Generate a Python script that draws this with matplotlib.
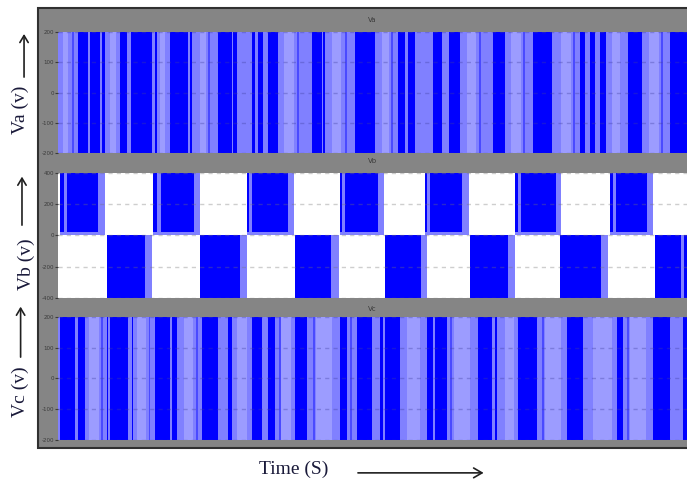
import matplotlib
matplotlib.use("Agg")
import matplotlib.pyplot as plt
from matplotlib.patches import Rectangle, FancyArrowPatch

# time axis in ms (scope window 0..100 ms)
t_end = 100.0

# Va: dark (dense switching) bands, ms
va_dark = [(3.2, 4.8), (5.1, 6.7), (7.0, 7.5), (9.9, 11.0), (11.6, 14.9),
           (15.4, 15.7), (17.8, 20.7), (21.0, 21.3), (25.4, 27.7), (27.8, 28.5),
           (30.8, 31.3), (31.8, 32.6), (33.4, 35.0), (40.4, 42.0), (42.1, 42.4),
           (47.2, 50.4), (54.1, 55.2), (55.6, 56.8), (59.6, 61.0), (62.2, 63.9),
           (69.2, 71.1), (75.5, 78.5), (83.0, 83.8), (84.6, 85.4), (86.2, 87.1),
           (90.6, 92.8), (97.3, 100.0)]
va_pale = [(0.8, 1.6), (8.3, 9.2), (16.2, 17.0), (22.5, 23.6), (36.0, 37.5),
           (43.5, 45.0), (51.5, 52.6), (65.0, 66.5), (72.0, 73.6), (80.0, 81.5),
           (88.0, 89.4), (94.0, 95.6)]
va_mid = [(2.2, 2.5), (23.9, 24.2), (38.0, 38.3), (45.6, 45.9), (52.9, 53.2),
          (66.9, 67.2), (74.0, 74.3), (81.9, 82.2), (95.9, 96.2)]

# Vb: +400 / -400 blocks, ms
vb_pos = [(0.3, 6.7), (15.1, 22.1), (30.0, 36.9), (44.8, 51.2), (58.3, 64.7),
          (72.7, 79.5), (87.8, 94.1)]
vb_neg = [(7.8, 14.6), (22.6, 29.7), (37.7, 44.0), (52.0, 58.3), (65.5, 72.2),
          (79.8, 87.0), (94.9, 100.0)]
vb_light = [(1.0, 1.5), (6.4, 7.5), (15.8, 16.3), (21.6, 22.6), (30.4, 30.9),
            (36.5, 37.5), (45.2, 45.7), (50.8, 51.8), (58.7, 59.2), (64.3, 65.3),
            (73.1, 73.6), (79.1, 80.0), (88.2, 88.7), (93.7, 94.6)]
vb_light_neg = [(13.9, 15.0), (29.0, 30.0), (43.4, 44.6), (57.7, 58.6),
                (71.6, 72.6), (86.3, 87.5), (99.0, 99.5)]

# Vc: dark bands, ms
vc_dark = [(0.3, 2.7), (3.2, 4.3), (7.8, 8.0), (8.3, 11.1), (11.8, 11.9),
           (15.4, 17.8), (18.1, 18.9), (22.9, 25.4), (27.0, 27.7), (30.8, 32.4),
           (33.4, 34.5), (37.7, 39.6), (44.8, 45.9), (47.5, 49.9), (51.2, 51.7),
           (52.0, 54.4), (58.7, 59.6), (59.9, 61.8), (66.8, 69.0), (69.5, 69.8),
           (73.1, 76.2), (80.9, 83.5), (88.9, 89.8), (94.6, 97.3), (99.4, 100.0)]
vc_pale = [(5.0, 6.5), (12.5, 14.0), (20.0, 21.5), (28.5, 30.0), (35.5, 37.0),
           (41.0, 43.5), (55.5, 57.5), (63.0, 65.5), (71.0, 72.5), (77.5, 80.0),
           (85.0, 88.0), (91.0, 93.5)]
vc_mid = [(6.9, 7.2), (14.4, 14.7), (21.9, 22.2), (35.1, 35.4), (40.5, 40.8),
          (46.4, 46.7), (62.4, 62.7), (77.0, 77.3), (90.5, 90.8)]

titles = ["Va", "Vb", "Vc"]
yticks = [[-200, -100, 0, 100, 200], [-400, -200, 0, 200, 400], [-200, -100, 0, 100, 200]]
ylabels = ["Va (v)", "Vb (v)", "Vc (v)"]

DARK = "#0000ff"
LIGHT = "#8080ff"
PALE = "#9c9cff"
MID = "#4a4aff"
GRAY = "#858585"

fig = plt.figure(figsize=(6.87, 4.87), dpi=100)
fig.patch.set_facecolor("white")

# scope window
fig.add_artist(Rectangle((0.0553, 0.0801), 1.0, 0.9035, transform=fig.transFigure,
                         facecolor=GRAY, edgecolor="#303030", lw=1.5, zorder=0))

boxes = [(0.0844, 0.6858, 0.9156, 0.2485),
         (0.0844, 0.3881, 0.9156, 0.2567),
         (0.0844, 0.0965, 0.9156, 0.2526)]
axes = [fig.add_axes(b) for b in boxes]


def pwm_panel(ax, dark, pale, mid, lim):
    ax.broken_barh([(0, t_end)], (-lim, 2 * lim), facecolors=LIGHT, zorder=1)
    ax.broken_barh([(a, b - a) for a, b in pale], (-lim, 2 * lim), facecolors=PALE, zorder=1.5)
    ax.broken_barh([(a, b - a) for a, b in mid], (-lim, 2 * lim), facecolors=MID, zorder=1.6)
    ax.broken_barh([(a, b - a) for a, b in dark], (-lim, 2 * lim), facecolors=DARK, zorder=2)


pwm_panel(axes[0], va_dark, va_pale, va_mid, 200)
pwm_panel(axes[2], vc_dark, vc_pale, vc_mid, 200)

ax = axes[1]
ax.set_facecolor("white")
ax.broken_barh([(a, b - a) for a, b in vb_pos], (0, 400), facecolors=DARK, zorder=2)
ax.broken_barh([(a, b - a) for a, b in vb_pos], (0, 25), facecolors=LIGHT, zorder=2.2)
ax.broken_barh([(a, b - a) for a, b in vb_light], (0, 400), facecolors=LIGHT, zorder=2.1)
ax.broken_barh([(a, b - a) for a, b in vb_neg], (-400, 400), facecolors=DARK, zorder=2)
ax.broken_barh([(a, b - a) for a, b in vb_light_neg], (-400, 400), facecolors=LIGHT, zorder=2.1)

for i, ax in enumerate(axes):
    lim = yticks[i][-1]
    ax.set_xlim(0, t_end)
    ax.set_ylim(-lim, lim)
    ax.set_yticks(yticks[i])
    ax.set_yticklabels([str(v) for v in yticks[i]])
    ax.tick_params(axis="y", labelsize=4, colors="#3a3a3a", length=2, pad=1)
    ax.set_xticks([])
    gcol = "#4040a0" if i != 1 else "0.45"
    ax.grid(axis="y", color=gcol, alpha=0.35, linestyle=(0, (3, 3)), lw=1, zorder=3)
    ax.set_axisbelow(False)
    for s in ax.spines.values():
        s.set_visible(False)
    ax.set_title(titles[i], fontsize=5, color="#3a3a3a", pad=7 if i < 2 else 4)

serif = ["Liberation Serif", "DejaVu Serif"]
lab_pos = [(0.029, 0.774), (0.038, 0.458), (0.029, 0.195)]
arrows = [((0.035, 0.836), (0.035, 0.936)),
          ((0.032, 0.532), (0.032, 0.643)),
          ((0.030, 0.261), (0.030, 0.376))]
for (x, y), lab, (p0, p1) in zip(lab_pos, ylabels, arrows):
    fig.text(x, y, lab, rotation=90, ha="center", va="center", fontsize=14,
             family=serif, color="#1a1a3a")
    fig.add_artist(FancyArrowPatch(p0, p1, transform=fig.transFigure,
                                   arrowstyle="->,head_length=5,head_width=3",
                                   color="#202020", lw=1.2))

fig.text(0.427, 0.036, "Time (S)", ha="center", va="center", fontsize=14,
         family=serif, color="#1a1a3a")
fig.add_artist(FancyArrowPatch((0.517, 0.029), (0.708, 0.029), transform=fig.transFigure,
                               arrowstyle="->,head_length=6,head_width=3.5",
                               color="#202020", lw=1.2))

fig.savefig("out.png", dpi=100, facecolor="white")
